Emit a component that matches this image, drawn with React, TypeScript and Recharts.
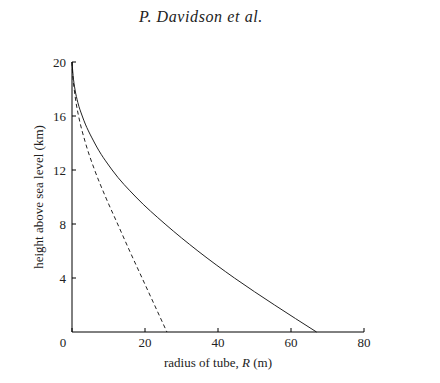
import React from "react";
import { Label, Line, LineChart, XAxis, YAxis } from "recharts";

// radius of tube R (m) vs height above sea level h (km)
const solidR = [0, 0.3, 0.8, 1.6, 2.8, 6.2, 11, 17.5, 25.5, 34.5, 44.5, 55.5, 67];
const solidH = [20, 19, 18, 17, 16, 14, 12, 10, 8, 6, 4, 2, 0];
const dashedR = [0, 0.2, 0.6, 1.1, 1.8, 3.7, 6.2, 9.2, 12.5, 15.8, 19.2, 22.6, 26];
const dashedH = [20, 19, 18, 17, 16, 14, 12, 10, 8, 6, 4, 2, 0];

const xTicks = [0, 20, 40, 60, 80];
const yTicks = [4, 8, 12, 16, 20];

const solidData = solidR.map((r, i) => ({ r, h: solidH[i] }));
const dashedData = dashedR.map((r, i) => ({ r, h: dashedH[i] }));

const FONT = "'Liberation Serif', 'DejaVu Serif', serif";
const INK = "#222";

const XTick = (props: any) => {
  const { x, y, payload } = props;
  // the origin label sits left of the corner
  const shift = payload.value === 0 ? -9 : 0;
  return (
    <text
      x={x + shift}
      y={y}
      dy="0.71em"
      textAnchor="middle"
      fontFamily={FONT}
      fontSize={13}
      fill={INK}
    >
      {payload.value}
    </text>
  );
};

const XLabel = (props: any) => {
  const { viewBox } = props;
  const cx = viewBox.x + viewBox.width / 2;
  return (
    <text
      x={cx}
      y={367}
      textAnchor="middle"
      fontFamily={FONT}
      fontSize={13}
      fill={INK}
    >
      radius of tube, <tspan fontStyle="italic">R</tspan> (m)
    </text>
  );
};

const YLabel = () => (
  <text
    x={43}
    y={197}
    transform="rotate(-90, 43, 197)"
    textAnchor="middle"
    fontFamily={FONT}
    fontSize={13}
    fill={INK}
  >
    height above sea level (km)
  </text>
);

export default function App() {
  return (
    <div
      style={{
        position: "absolute",
        left: 0,
        top: 0,
        width: 440,
        height: 383,
        background: "#fff",
      }}
    >
      <div
        style={{
          position: "absolute",
          left: 0,
          top: 8,
          width: 402,
          textAlign: "center",
          fontFamily: FONT,
          fontStyle: "italic",
          fontSize: 16,
          letterSpacing: 0.6,
          color: INK,
        }}
      >
        P. Davidson et al.
      </div>
      <LineChart
        width={440}
        height={383}
        margin={{ top: 62, right: 76, left: 0, bottom: 11 }}
      >
        <XAxis
          type="number"
          dataKey="r"
          domain={[0, 80]}
          ticks={xTicks}
          height={40}
          stroke="#000"
          tickSize={-4}
          tickMargin={10}
          tick={<XTick />}
        >
          <Label content={<XLabel />} />
        </XAxis>
        <YAxis
          type="number"
          dataKey="h"
          domain={[0, 20]}
          ticks={yTicks}
          width={72}
          stroke="#000"
          tickSize={-4}
          tickMargin={10}
          tick={{ fontFamily: FONT, fontSize: 13, fill: INK }}
        >
          <Label content={<YLabel />} />
        </YAxis>
        <Line
          data={solidData}
          dataKey="h"
          type="monotone"
          stroke={INK}
          strokeWidth={1}
          dot={false}
          isAnimationActive={false}
        />
        <Line
          data={dashedData}
          dataKey="h"
          type="monotone"
          stroke={INK}
          strokeWidth={1}
          strokeDasharray="4 3"
          dot={false}
          isAnimationActive={false}
        />
      </LineChart>
    </div>
  );
}
